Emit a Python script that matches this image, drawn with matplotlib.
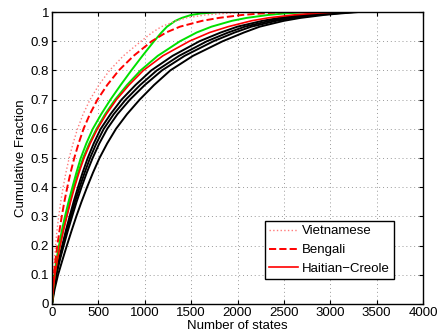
import matplotlib
matplotlib.use("Agg")
import matplotlib.pyplot as plt

# cumulative fraction levels, and the number of states at which each curve reaches them
frac_levels = [0.0, 0.05, 0.1, 0.15, 0.2, 0.25, 0.3, 0.35, 0.4, 0.45, 0.5, 0.55, 0.6,
               0.65, 0.7, 0.75, 0.8, 0.85, 0.9, 0.93, 0.95, 0.97, 0.98, 0.99, 0.995, 1.0]

vietnamese = [0, 7, 15, 25, 38, 53, 72, 94, 120, 150, 185, 227, 275,
              335, 410, 505, 620, 770, 960, 1080, 1180, 1340, 1450, 1650, 1850, 2100]
bengali = [0, 9, 20, 37, 57, 80, 105, 133, 165, 200, 240, 287, 340,
           408, 490, 595, 720, 880, 1075, 1230, 1380, 1620, 1800, 2050, 2250, 2500]
haitian_creole = [0, 13, 31, 57, 88, 122, 160, 200, 243, 291, 345, 412, 490,
                  585, 695, 830, 985, 1195, 1480, 1700, 1900, 2150, 2330, 2600, 2800, 3050]

green_a = [0, 10, 25, 48, 75, 105, 140, 178, 220, 263, 310, 370, 440,
           530, 630, 740, 855, 975, 1100, 1180, 1240, 1330, 1400, 1500, 1600, 1800]
green_b = [0, 12, 30, 55, 85, 118, 155, 193, 235, 282, 335, 402, 480,
           572, 680, 808, 955, 1140, 1380, 1560, 1720, 1940, 2100, 2330, 2500, 2750]

black_a = [0, 17, 40, 73, 110, 148, 190, 233, 280, 330, 385, 450, 525,
           630, 750, 900, 1070, 1300, 1590, 1820, 2000, 2270, 2450, 2700, 2900, 3150]
black_b = [0, 18, 43, 78, 118, 158, 203, 248, 298, 352, 410, 478, 558,
           665, 795, 950, 1130, 1370, 1670, 1900, 2080, 2350, 2530, 2780, 2980, 3200]
black_c = [0, 20, 47, 84, 126, 170, 217, 265, 318, 375, 438, 510, 595,
           705, 840, 1000, 1185, 1430, 1740, 1970, 2150, 2420, 2600, 2850, 3050, 3250]
black_d = [0, 28, 65, 112, 160, 210, 262, 318, 378, 442, 512, 595, 690,
           808, 945, 1100, 1275, 1520, 1840, 2070, 2240, 2500, 2680, 2930, 3100, 3300]

xticks = [0, 500, 1000, 1500, 2000, 2500, 3000, 3500, 4000]
yticks = [0, 0.1, 0.2, 0.3, 0.4, 0.5, 0.6, 0.7, 0.8, 0.9, 1]
ytick_labels = ['0', '0.1', '0.2', '0.3', '0.4', '0.5', '0.6', '0.7', '0.8', '0.9', '1']

plt.rcParams['font.family'] = ['Liberation Sans', 'DejaVu Sans']
plt.rcParams['font.size'] = 9.5

fig = plt.figure(figsize=(4.37, 3.31), dpi=100)
ax = fig.add_axes([0.119, 0.0816, 0.849, 0.882])

for xs in [black_a, black_b, black_c, black_d]:
    ax.plot(xs, frac_levels, color='black', lw=1.4)
for xs in [green_a, green_b]:
    ax.plot(xs, frac_levels, color='#00e000', lw=1.4)

ax.plot(vietnamese, frac_levels, color='#ff7a7a', lw=1.0, ls=':', label='Vietnamese')
ax.plot(bengali, frac_levels, color='red', lw=1.4, ls='--', label='Bengali')
ax.plot(haitian_creole, frac_levels, color='red', lw=1.2, ls='-', label='Haitian\u2212Creole')

ax.set_xlim(0, 4000)
ax.set_ylim(0, 1)
ax.set_xticks(xticks)
ax.set_yticks(yticks)
ax.set_yticklabels(ytick_labels)
ax.grid(True, ls=(0, (1, 3)), color='#999999', lw=0.7)
ax.tick_params(direction='in', top=True, right=True, length=3, pad=2)
for s in ax.spines.values():
    s.set_linewidth(1.0)

ax.set_xlabel('Number of states', labelpad=1)
ax.set_ylabel('Cumulative Fraction', labelpad=3)

leg = ax.legend(loc='lower right', bbox_to_anchor=(0.922, 0.0856), borderaxespad=0,
                fancybox=False, framealpha=1, edgecolor='black', handlelength=2.2,
                handletextpad=0.3, labelspacing=0.5, borderpad=0.3)
leg.get_frame().set_linewidth(1.0)

fig.savefig('out.png', dpi=100)
